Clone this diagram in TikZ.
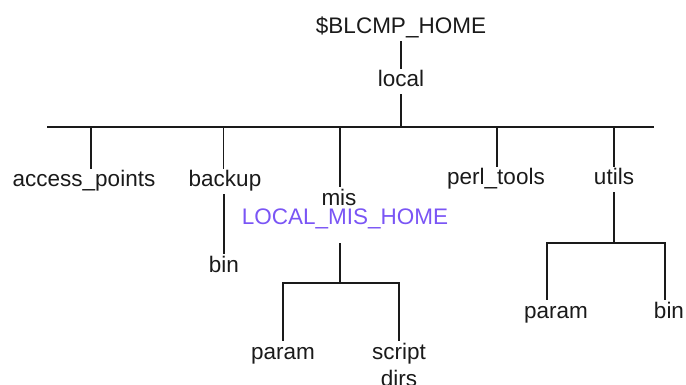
\documentclass[tikz,border=0pt]{standalone}
\usepackage{fontspec}
\setmainfont{Liberation Sans}
\usepackage{xcolor}
\definecolor{cText}{HTML}{1A1A1A}
\definecolor{cPath}{HTML}{7A55F5}
\usetikzlibrary{positioning}
\tikzset{
  dir-label/.style={font=\fontsize{22.5}{27}\selectfont,text=cText,inner sep=2pt,
    text height=16pt,text depth=5pt,anchor=base},
  dir-multi/.style={font=\fontsize{22.5}{27}\selectfont,text=cText,inner sep=2pt,
    align=center,anchor=north},
  dir-env/.style={text=cPath},
  tree-line/.style={draw=cText,line width=1.2pt},
}

\begin{document}
\begin{tikzpicture}[x=1pt,y=-1pt]
  \useasboundingbox (0,0) rectangle (686,385);
  % top of the tree
  \node[dir-label] (home)  at (401,34)  {\$BLCMP\_HOME};
  \node[dir-label] (local) at (401,87)  {local};
  \coordinate (barL) at (47,127);
  \coordinate (barR) at (654,127);
  % first level
  \node[dir-label] (ap)     at (84,187)  {access\_points};
  \node[dir-label] (backup) at (225,187) {backup};
  \node[dir-label] (mis)    at (339,205) {mis};
  \node[dir-label,dir-env] (mishome) at (345,225) {LOCAL\_MIS\_HOME};
  \node[dir-label] (perl)   at (496,185) {perl\_tools};
  \node[dir-label] (utils)  at (614,185) {utils};
  \coordinate (jap)   at (91,127);
  \coordinate (jbk)   at (223.5,127);
  \coordinate (jmis)  at (340,127);
  \coordinate (jperl) at (497,127);
  \coordinate (jut)   at (614,127);
  % second level
  \node[dir-label] (bin1)   at (224,272) {bin};
  \node[dir-label] (param1) at (283,359) {param};
  \node[dir-multi] (script) at (399,341) {script\\dirs};
  \node[dir-label] (param2) at (556,318) {param};
  \node[dir-label] (bin2)   at (669,318) {bin};
  \coordinate (mbar) at (340,283);
  \coordinate (ubar) at (614,243);
  \coordinate (jp2)  at (547,243);
  \coordinate (jb2)  at (665,243);

  \draw[tree-line] (home.south) -- (local.north);
  \draw[tree-line] (local.south) -- (local |- barL);
  \draw[tree-line] (barL) -- (barR);
  \draw[tree-line] (jap) -- (jap |- ap.north);
  \draw[tree-line] (jbk) -- (jbk |- backup.north);
  \draw[tree-line] (jmis) -- (jmis |- mis.north);
  \draw[tree-line] (jperl) -- (jperl |- perl.north);
  \draw[tree-line] (jut) -- (jut |- utils.north);
  \draw[tree-line] (bin1.north) -- (bin1.north |- backup.south);
  \draw[tree-line,shorten <=11pt] (mishome.south -| mbar) -- (mbar);
  \draw[tree-line] (param1.north) |- (script.north |- mbar) -- (script.north);
  \draw[tree-line] (utils.south) -- (ubar);
  \draw[tree-line] (jp2 |- param2.north) -- (jp2) -- (jb2) -- (jb2 |- bin2.north);
\end{tikzpicture}
\end{document}
